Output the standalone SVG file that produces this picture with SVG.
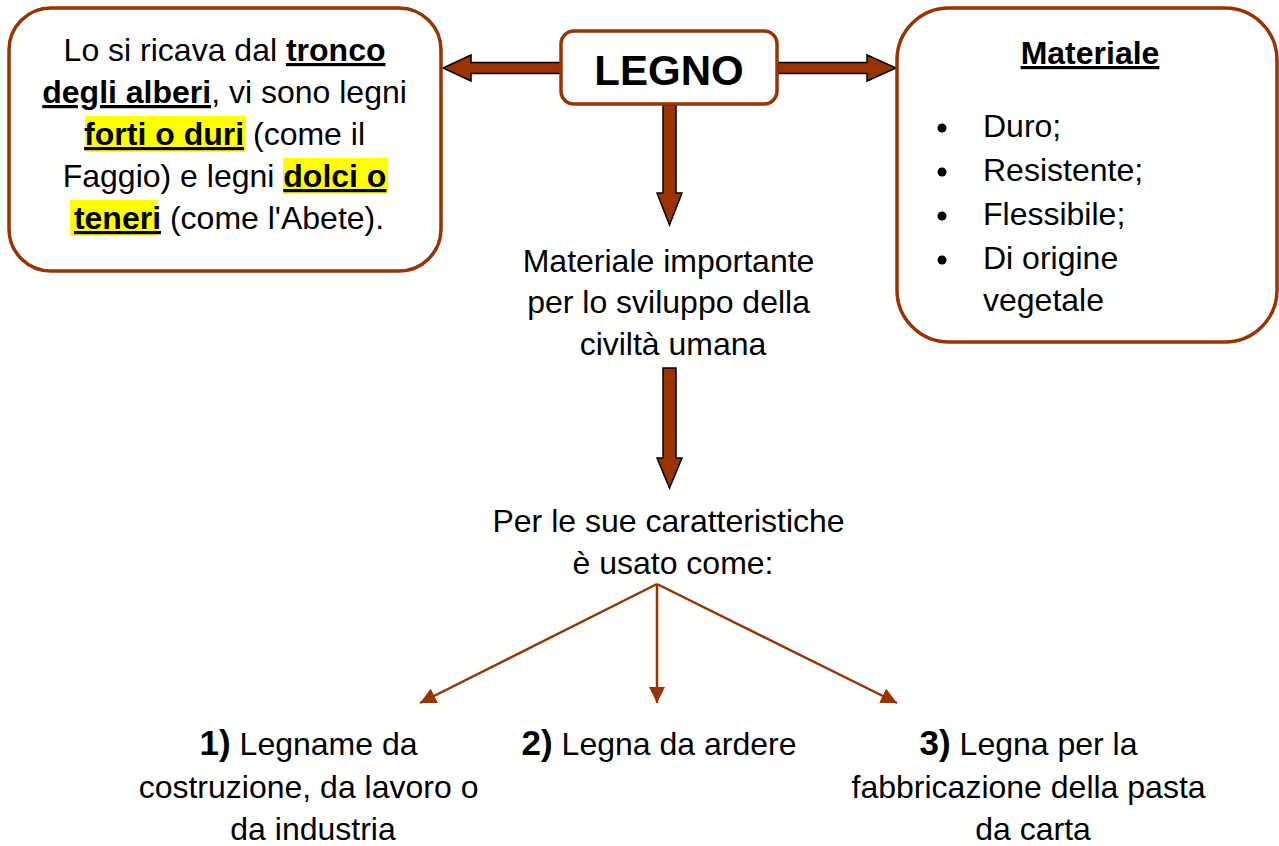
<svg xmlns="http://www.w3.org/2000/svg" width="1279" height="846" viewBox="0 0 1279 846">
<defs>
<style>
.box{fill:#fff;stroke:#993300;stroke-width:3.5}
.t{font-family:"Liberation Sans",Arial,sans-serif;font-size:32px;fill:#000}
.b{font-weight:bold}
.u{text-decoration:underline}
.blk{fill:#993300;stroke:#000;stroke-width:1.5;stroke-linejoin:miter}
.thin{stroke:#993300;stroke-width:2.5;fill:none}
.hl{fill:#ffff00}
.num{font-weight:bold;font-size:35px}
</style>
<marker id="ah2" viewBox="0 0 16 16" refX="16" refY="8" markerWidth="16" markerHeight="16" orient="auto" markerUnits="userSpaceOnUse">
<path d="M0,0 L16,8 L0,16 z" fill="#993300"/>
</marker>
</defs>
<rect width="1279" height="846" fill="#fff"/>

<g id="connectors">
<path class="blk" d="M562,62.5 L471,62.5 L471,55 L443,68 L471,81 L471,73.5 L562,73.5 z"/>
<path class="blk" d="M778,62.5 L867,62.5 L867,55 L896,68 L867,81 L867,73.5 L778,73.5 z"/>
<path class="blk" d="M663,105 L676,105 L676,193 L682,193 L669.5,225 L657,193 L663,193 z"/>
<path class="blk" d="M663,368 L676,368 L676,458 L682,458 L669.5,488 L657,458 L663,458 z"/>
<line class="thin" x1="657" y1="584" x2="420" y2="703" marker-end="url(#ah2)"/>
<line class="thin" x1="657" y1="584" x2="657" y2="703" marker-end="url(#ah2)"/>
<line class="thin" x1="657" y1="584" x2="897" y2="703" marker-end="url(#ah2)"/>
</g>

<g id="node-left">
<rect class="box" x="9" y="8" width="432" height="263" rx="42"/>
<rect class="hl" x="85" y="116" width="161" height="36"/>
<rect class="hl" x="283" y="158" width="105" height="36"/>
<rect class="hl" x="70" y="200" width="87" height="36"/>
<text class="t" text-anchor="middle">
<tspan x="229" y="61">Lo si ricava dal <tspan class="b u">tronco</tspan></tspan>
<tspan x="229" y="103"><tspan class="b u">degli alberi</tspan>, vi sono legni</tspan>
<tspan x="229" y="145"><tspan class="b u">forti o duri</tspan> (come il</tspan>
<tspan x="229" y="187">Faggio) e legni <tspan class="b u">dolci o</tspan></tspan>
<tspan x="229" y="229"><tspan class="b u">teneri</tspan> (come l'Abete).</tspan>
</text>
</g>

<g id="node-legno">
<rect class="box" x="561" y="31" width="216" height="73" rx="13"/>
<text class="t b" x="669" y="85" text-anchor="middle" style="font-size:42px">LEGNO</text>
</g>

<g id="node-right">
<rect class="box" x="897" y="8" width="380" height="334" rx="52"/>
<text class="t b u" x="1090" y="64" text-anchor="middle">Materiale</text>
<circle cx="942" cy="128" r="4.5"/>
<circle cx="942" cy="172" r="4.5"/>
<circle cx="942" cy="216" r="4.5"/>
<circle cx="942" cy="260" r="4.5"/>
<text class="t">
<tspan x="983" y="137">Duro;</tspan>
<tspan x="983" y="181">Resistente;</tspan>
<tspan x="983" y="225">Flessibile;</tspan>
<tspan x="983" y="269">Di origine</tspan>
<tspan x="983" y="311">vegetale</tspan>
</text>
</g>

<g id="node-importante">
<text class="t" text-anchor="middle">
<tspan x="673" y="272">Materiale importante</tspan>
<tspan x="673" y="313">per lo sviluppo della</tspan>
<tspan x="673" y="355">civiltà umana</tspan>
</text>
</g>

<g id="node-caratteristiche">
<text class="t" text-anchor="middle">
<tspan x="673" y="532">Per le sue caratteristiche</tspan>
<tspan x="673" y="574">è usato come:</tspan>
</text>
</g>

<g id="node-1">
<text class="t" text-anchor="middle">
<tspan x="313" y="755"><tspan class="num">1)</tspan> Legname da</tspan>
<tspan x="313" y="798">costruzione, da lavoro o</tspan>
<tspan x="313" y="840">da industria</tspan>
</text>
</g>

<g id="node-2">
<text class="t" text-anchor="middle">
<tspan x="659" y="755"><tspan class="num">2)</tspan> Legna da ardere</tspan>
</text>
</g>

<g id="node-3">
<text class="t" text-anchor="middle">
<tspan x="1033" y="755"><tspan class="num">3)</tspan> Legna per la</tspan>
<tspan x="1033" y="798">fabbricazione della pasta</tspan>
<tspan x="1033" y="840">da carta</tspan>
</text>
</g>
</svg>
